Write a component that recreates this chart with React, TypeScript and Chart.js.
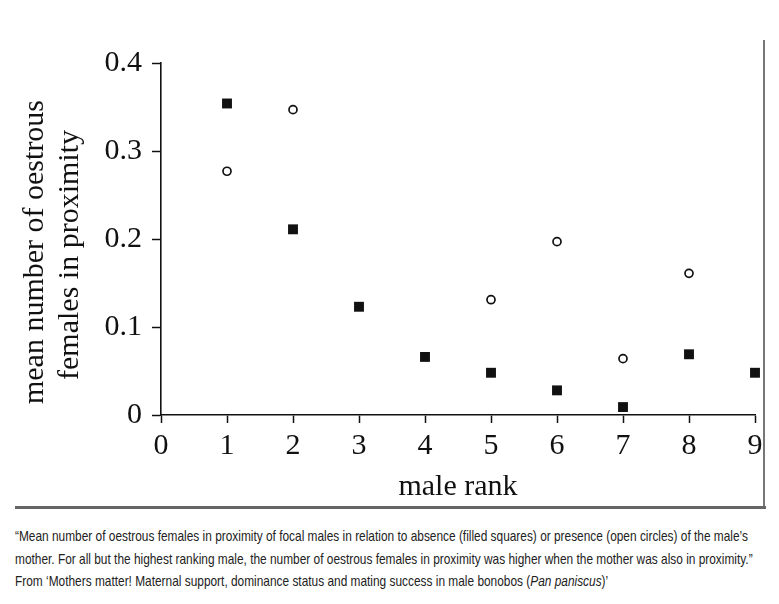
import React, { useEffect, useLayoutEffect, useRef, useState } from "react";
import { Chart, registerables } from "chart.js";

Chart.register(...registerables);

// ---- data ----
const maleRanks = [1, 2, 3, 4, 5, 6, 7, 8, 9];
const motherAbsent = [0.354, 0.211, 0.123, 0.066, 0.048, 0.028, 0.009, 0.069, 0.048];
const motherPresentRanks = [1, 2, 5, 6, 7, 8];
const motherPresent = [0.277, 0.347, 0.131, 0.197, 0.064, 0.161];
const yTickLabels = ["0", "0.1", "0.2", "0.3", "0.4"];
const xTitle = "male rank";
const yTitleLines = ["mean number of oestrous", "females in proximity"];
const captionLines = [
  "\u201CMean number of oestrous females in proximity of focal males in relation to absence (filled squares) or presence (open circles) of the male\u2019s",
  "mother. For all but the highest ranking male, the number of oestrous females in proximity was higher when the mother was also in proximity.\u201D",
];

const SERIF = '"Liberation Serif", "Times New Roman", serif';
const INK = "#111";

const yTitlePlugin = {
  id: "yTitleCustom",
  afterDraw(chart: any) {
    const ctx = chart.ctx as CanvasRenderingContext2D;
    ctx.save();
    ctx.font = `30px ${SERIF}`;
    ctx.fillStyle = INK;
    ctx.textAlign = "center";
    ctx.textBaseline = "alphabetic";
    const pos = [
      { x: 43, y: 252 },
      { x: 78, y: 255 },
    ];
    yTitleLines.forEach((line, i) => {
      ctx.save();
      ctx.translate(pos[i].x, pos[i].y);
      ctx.rotate(-Math.PI / 2);
      ctx.fillText(line, 0, 0);
      ctx.restore();
    });
    ctx.restore();
  },
};

export default function App() {
  const canvasRef = useRef<HTMLCanvasElement | null>(null);
  const line1Ref = useRef<HTMLSpanElement | null>(null);
  const [capScale, setCapScale] = useState(1);

  useLayoutEffect(() => {
    if (line1Ref.current) {
      const w = line1Ref.current.getBoundingClientRect().width;
      if (w > 0) setCapScale(733 / w);
    }
  }, []);

  useEffect(() => {
    if (!canvasRef.current) return;
    const chart = new Chart(canvasRef.current, {
      type: "scatter",
      data: {
        datasets: [
          {
            label: "mother absent",
            data: maleRanks.map((r, i) => ({ x: r, y: motherAbsent[i] })),
            pointStyle: "rect",
            pointRadius: 7,
            pointBackgroundColor: "#111",
            pointBorderColor: "#111",
            pointBorderWidth: 0,
            clip: false,
          },
          {
            label: "mother present",
            data: motherPresentRanks.map((r, i) => ({ x: r, y: motherPresent[i] })),
            pointStyle: "circle",
            pointRadius: 4,
            pointBackgroundColor: "#fff",
            pointBorderColor: "#111",
            pointBorderWidth: 1.7,
            clip: false,
          },
        ],
      },
      options: {
        animation: false,
        responsive: true,
        maintainAspectRatio: false,
        layout: { padding: { left: 0, right: 24, top: 63, bottom: 0 } },
        plugins: {
          legend: { display: false },
          tooltip: { enabled: false },
          title: { display: false },
        },
        scales: {
          x: {
            type: "linear",
            min: 0,
            max: 9,
            ticks: {
              stepSize: 1,
              font: { family: SERIF, size: 30 },
              color: INK,
              padding: 5,
              maxRotation: 0,
              autoSkip: false,
            },
            grid: {
              drawOnChartArea: false,
              drawTicks: true,
              tickLength: 8,
              tickWidth: 1.5,
              tickColor: INK,
            },
            border: { display: true, color: INK, width: 1.6 },
            title: {
              display: true,
              text: xTitle,
              font: { family: SERIF, size: 30 },
              color: INK,
              padding: { top: 0, bottom: 5 },
            },
            afterFit: (s: any) => {
              s.height = 95;
            },
          },
          y: {
            type: "linear",
            min: 0,
            max: 0.4,
            ticks: {
              stepSize: 0.1,
              font: { family: SERIF, size: 30 },
              color: INK,
              padding: 10,
              callback: (v: any) => yTickLabels[Math.round(Number(v) * 10)] ?? "",
            },
            grid: {
              drawOnChartArea: false,
              drawTicks: true,
              tickLength: 9,
              tickWidth: 1.5,
              tickColor: INK,
            },
            border: { display: true, color: INK, width: 1.6 },
            afterFit: (s: any) => {
              s.width = 161;
            },
          },
        },
      },
      plugins: [yTitlePlugin],
    });
    return () => chart.destroy();
  }, []);

  const captionStyle: React.CSSProperties = {
    position: "absolute",
    left: 15,
    whiteSpace: "nowrap",
    fontFamily: '"Liberation Sans", Arial, sans-serif',
    fontSize: 14.5,
    lineHeight: "17px",
    color: "#222",
    transform: `scaleX(${capScale})`,
    transformOrigin: "left center",
  };

  return (
    <div
      style={{
        position: "absolute",
        left: 0,
        top: 0,
        width: 779,
        height: 604,
        background: "#fff",
        overflow: "hidden",
      }}
    >
      <div style={{ position: "absolute", left: 0, top: 0, width: 779, height: 510 }}>
        <canvas ref={canvasRef} />
      </div>
      <div
        style={{
          position: "absolute",
          left: 763,
          top: 40,
          width: 1.5,
          height: 468,
          background: "#777",
        }}
      />
      <div
        style={{
          position: "absolute",
          left: 15,
          top: 506,
          width: 751,
          height: 3,
          background: "#666",
        }}
      />
      <div style={{ ...captionStyle, top: 528 }}>
        <span ref={line1Ref}>{captionLines[0]}</span>
      </div>
      <div style={{ ...captionStyle, top: 551 }}>{captionLines[1]}</div>
      <div style={{ ...captionStyle, top: 573 }}>
        From {"\u2018"}Mothers matter! Maternal support, dominance status and mating success in male bonobos (
        <i>Pan paniscus</i>){"\u2019"}
      </div>
    </div>
  );
}
